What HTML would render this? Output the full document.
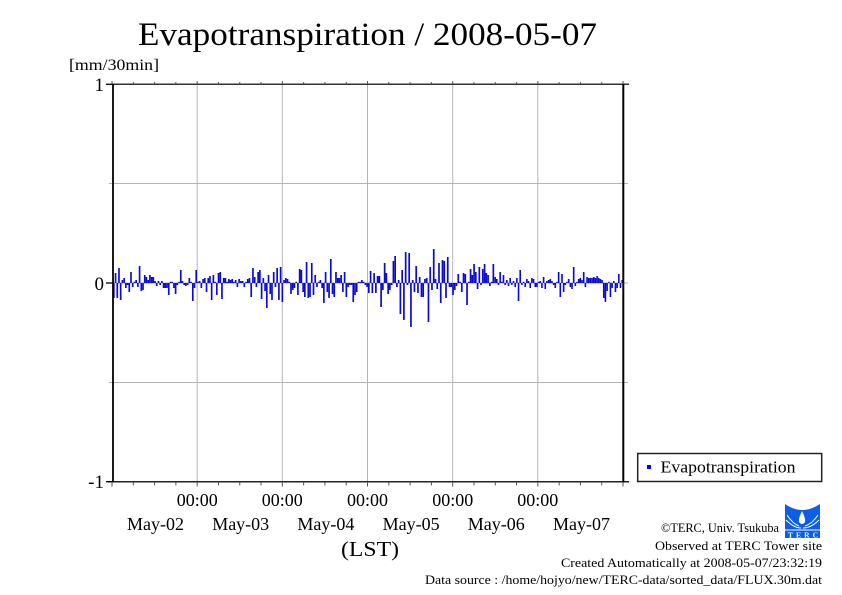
<!DOCTYPE html>
<html>
<head>
<meta charset="utf-8">
<style>
html,body{margin:0;padding:0;background:#fff;}
svg{display:block;}
text{font-family:"Liberation Serif",serif;fill:#000;}
</style>
</head>
<body>
<svg id="c" width="842" height="595" viewBox="0 0 842 595" xmlns="http://www.w3.org/2000/svg">
<rect x="0" y="0" width="842" height="595" fill="#fff"/>
<!-- title -->
<text x="138" y="45" font-size="33" textLength="459" lengthAdjust="spacingAndGlyphs">Evapotranspiration / 2008-05-07</text>
<text x="69" y="70" font-size="16" textLength="90" lengthAdjust="spacingAndGlyphs">[mm/30min]</text>

<!-- grid -->
<g stroke="#b4b4b4" stroke-width="1" fill="none">
<line x1="197.2" y1="84" x2="197.2" y2="482"/>
<line x1="282.3" y1="84" x2="282.3" y2="482"/>
<line x1="367.5" y1="84" x2="367.5" y2="482"/>
<line x1="452.7" y1="84" x2="452.7" y2="482"/>
<line x1="537.8" y1="84" x2="537.8" y2="482"/>
<line x1="109" y1="183.5" x2="628" y2="183.5"/>
<line x1="109" y1="283" x2="628" y2="283"/>
<line x1="109" y1="382.5" x2="628" y2="382.5"/>
</g>

<g id="bars" fill="#0a0ad8"></g>

<!-- frame -->
<g stroke="#000" fill="none">
<line x1="112" y1="84.3" x2="629" y2="84.3" stroke="#333" stroke-width="1.5"/>
<line x1="108" y1="481.7" x2="629" y2="481.7" stroke="#222" stroke-width="1.5"/>
<line x1="113" y1="84" x2="113" y2="482.5" stroke-width="1.8"/>
<line x1="623.3" y1="84" x2="623.3" y2="482.5" stroke-width="2"/>
<line x1="106" y1="84.3" x2="113" y2="84.3" stroke-width="1.3"/>
<line x1="106" y1="283" x2="113" y2="283" stroke-width="1.3"/>
<line x1="106" y1="481.7" x2="113" y2="481.7" stroke-width="1.3"/>
</g>
<g id="ticks" stroke="#555" stroke-width="1"></g>

<!-- y labels -->
<g font-size="19" text-anchor="end">
<text x="104" y="91">1</text>
<text x="104" y="290">0</text>
<text x="104" y="488">-1</text>
</g>

<!-- x labels -->
<g font-size="18" text-anchor="middle">
<text x="197.2" y="506">00:00</text>
<text x="282.3" y="506">00:00</text>
<text x="367.5" y="506">00:00</text>
<text x="452.7" y="506">00:00</text>
<text x="537.8" y="506">00:00</text>
<text x="155.5" y="530">May-02</text>
<text x="240.7" y="530">May-03</text>
<text x="325.9" y="530">May-04</text>
<text x="411.1" y="530">May-05</text>
<text x="496.3" y="530">May-06</text>
<text x="581.5" y="530">May-07</text>
</g>
<text x="341" y="556" font-size="21" textLength="58" lengthAdjust="spacingAndGlyphs">(LST)</text>

<!-- legend -->
<rect x="637.7" y="453.5" width="184" height="28" fill="#fff" stroke="#222" stroke-width="1.5"/>
<rect x="647" y="465" width="4" height="4" fill="#0000ff"/>
<text x="660.5" y="472.5" font-size="17" textLength="135" lengthAdjust="spacingAndGlyphs">Evapotranspiration</text>

<!-- footer -->
<g font-size="12.5">
<text x="661" y="532" textLength="118" lengthAdjust="spacingAndGlyphs">©TERC, Univ. Tsukuba</text>
<text x="655" y="550" textLength="167" lengthAdjust="spacingAndGlyphs">Observed at TERC Tower site</text>
<text x="561" y="567" textLength="261" lengthAdjust="spacingAndGlyphs">Created Automatically at 2008-05-07/23:32:19</text>
<text x="425" y="584" textLength="397" lengthAdjust="spacingAndGlyphs">Data source : /home/hojyo/new/TERC-data/sorted_data/FLUX.30m.dat</text>
</g>

<!-- logo -->
<g>
<rect x="785" y="504" width="35" height="34" fill="#0d5ee6"/>
<path d="M785 504 Q802 516 820 504" fill="#fff"/>
<path d="M802 511 Q798 519 799 522 Q802 526 805 522 Q806 519 802 511 Z" fill="#fff"/>
<g stroke="#fff" stroke-width="1" fill="none">
<path d="M787 515 Q793 524 799 526"/>
<path d="M818 515 Q812 524 805 526"/>
<path d="M786 520 Q794 528 801 528"/>
<path d="M819 520 Q811 528 803 528"/>
<line x1="785" y1="530" x2="820" y2="530"/>
</g>
<text x="788" y="537.5" font-size="7.5" font-family="Liberation Sans,sans-serif" font-weight="bold" fill="#fff" style="fill:#fff" textLength="30" lengthAdjust="spacing">TERC</text>
</g>
</svg>
<script>
(function(){
var NS="http://www.w3.org/2000/svg";
var segs=[
[113,240,[-15,10,-15,15,-17,3,5,-5,-2,-9,11,-4,1,3,-4,17,-8,-7,8,6,3,8,6,6,2,-3,2,-2,2,-5,-5,-5,-12,1,1,-5,-11,-2,1,13,2,-2,-3,-2,5,1,-18,-5,13,1,2,-5,4,5,-9,5,7,-17,8,1,-12,10,11,-16,5,5,1,4,3,4,1,3,-4,4]],
[240,368,[2,2,-4,0,4,5,-14,15,6,-4,11,13,-16,5,-8,-25,8,-11,-17,11,-4,15,-17,16,-19,3,5,4,1,-11,-7,-5,0,-12,14,13,-9,-14,21,-15,-14,20,-12,8,-4,0,3,-5,-20,11,-9,-15,24,-11,-14,11,5,5,8,-9,11,-14,-4,-2,-2,-19,-12,-9,1,1,3,1,-2,-4]],
[368,496,[-10,12,-10,10,-10,7,7,-24,-7,20,10,-11,-7,-2,22,27,-4,3,-31,13,-37,31,-2,30,-44,3,-9,17,-10,6,-14,-14,4,5,-39,16,-7,34,4,-6,20,-20,23,22,-15,26,-4,-4,-12,-7,-3,9,1,-9,10,9,-22,1,14,8,19,11,-6,16,-2,14,19,10,8,-3,1,19,6]],
[496,623,[4,-2,11,1,8,-2,3,-3,5,-2,2,-4,5,-18,13,-2,1,-4,4,2,-5,5,4,-4,-4,1,2,-5,6,-6,2,3,4,2,-2,-5,1,11,-14,9,-9,-2,1,4,-4,-6,16,-3,1,4,5,3,11,-4,6,5,5,5,6,5,7,5,4,3,-15,-19,-8,1,-14,-5,2,-9,-5,9,-5,3]]
];
var g=document.getElementById("bars");
segs.forEach(function(s){
  var x0=s[0],x1=s[1],v=s[2],n=v.length,w=(x1-x0)/n;
  for(var i=0;i<n;i++){
    var h=v[i];var x=x0+i*w;
    var r=document.createElementNS(NS,"rect");
    var hh=Math.max(Math.abs(h),1.2);
    r.setAttribute("x",x.toFixed(2));
    r.setAttribute("y",(h>=0?283-hh:283).toFixed(2));
    r.setAttribute("width",Math.max(w-0.05,1.5).toFixed(2));
    r.setAttribute("height",hh.toFixed(2));
    g.appendChild(r);
  }
});
var t=document.getElementById("ticks");
var L=112,D=85.17;
for(var k=0;k<=24;k++){
  var x=L+k*D/4;
  var major=(k%4===0);
  var a=document.createElementNS(NS,"line");
  a.setAttribute("x1",x);a.setAttribute("x2",x);
  a.setAttribute("y1",84);a.setAttribute("y2",major?81:82);
  t.appendChild(a);
  var b=document.createElementNS(NS,"line");
  b.setAttribute("x1",x);b.setAttribute("x2",x);
  b.setAttribute("y1",482);b.setAttribute("y2",major?486.5:485.5);
  t.appendChild(b);
}
})();
</script>
</body>
</html>
